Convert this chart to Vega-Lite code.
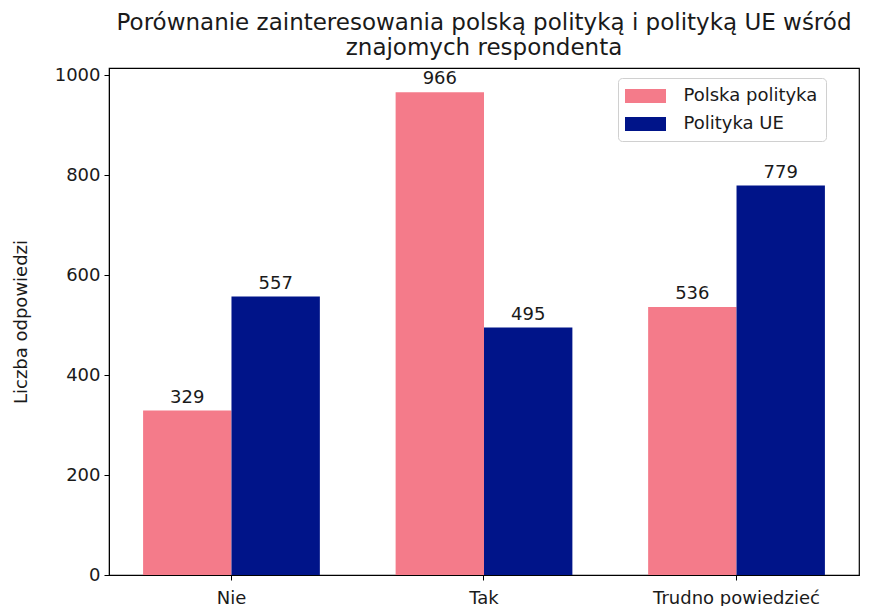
{
  "$schema": "https://vega.github.io/schema/vega-lite/v6.json",
  "width": 750,
  "height": 507,
  "autosize": {"type": "none"},
  "padding": {"left": 109, "top": 68, "right": 28, "bottom": 31},
  "background": "white",
  "title": {
    "text": ["Porównanie zainteresowania polską polityką i polityką UE wśród", "znajomych respondenta"],
    "font": "DejaVu Sans",
    "fontSize": 23,
    "fontWeight": "normal",
    "color": "#1a1a1a",
    "anchor": "middle",
    "offset": 6,
    "lineHeight": 25
  },
  "config": {
    "view": {"stroke": "black", "strokeWidth": 1.2},
    "axis": {
      "labelFont": "DejaVu Sans",
      "labelFontSize": 18,
      "labelColor": "#1a1a1a",
      "titleFont": "DejaVu Sans",
      "titleFontSize": 18,
      "titleFontWeight": "normal",
      "titleColor": "#1a1a1a",
      "domainColor": "black",
      "tickColor": "black",
      "tickSize": 5,
      "grid": false
    }
  },
  "data": {
    "values": [
      {"kategoria": "Nie", "seria": "Polska polityka", "liczba": 329},
      {"kategoria": "Nie", "seria": "Polityka UE", "liczba": 557},
      {"kategoria": "Tak", "seria": "Polska polityka", "liczba": 966},
      {"kategoria": "Tak", "seria": "Polityka UE", "liczba": 495},
      {"kategoria": "Trudno powiedzieć", "seria": "Polska polityka", "liczba": 536},
      {"kategoria": "Trudno powiedzieć", "seria": "Polityka UE", "liczba": 779}
    ]
  },
  "encoding": {
    "x": {
      "field": "kategoria",
      "type": "nominal",
      "sort": ["Nie", "Tak", "Trudno powiedzieć"],
      "scale": {"paddingInner": 0.3, "paddingOuter": 0.135},
      "axis": {"title": null, "labelAngle": 0, "labelPadding": 9}
    },
    "xOffset": {
      "field": "seria",
      "type": "nominal",
      "sort": ["Polska polityka", "Polityka UE"],
      "scale": {"paddingInner": 0, "paddingOuter": 0}
    },
    "y": {
      "field": "liczba",
      "type": "quantitative",
      "scale": {"domain": [0, 1014.3], "nice": false},
      "axis": {"title": "Liczba odpowiedzi", "values": [0, 200, 400, 600, 800, 1000], "format": "d", "titlePadding": 24, "labelPadding": 4}
    }
  },
  "layer": [
    {
      "mark": {"type": "bar"},
      "encoding": {
        "color": {
          "field": "seria",
          "type": "nominal",
          "sort": ["Polska polityka", "Polityka UE"],
          "scale": {"domain": ["Polska polityka", "Polityka UE"], "range": ["#f47b8a", "#001489"]},
          "legend": {
            "title": null,
            "orient": "none",
            "legendX": 509,
            "legendY": 10,
            "labelFont": "DejaVu Sans",
            "labelFontSize": 18,
            "labelColor": "#1a1a1a",
            "symbolType": "M-2.05,-0.7H2.05V0.7H-2.05Z",
            "symbolSize": 400,
            "symbolStrokeWidth": 0,
            "symbolOpacity": 1,
            "symbolOffset": 9.5,
            "strokeColor": "#d0d0d0",
            "cornerRadius": 4,
            "padding": 8,
            "rowPadding": 9,
            "labelOffset": 28,
            "fillColor": "white"
          }
        }
      }
    },
    {
      "mark": {"type": "text", "baseline": "bottom", "dy": -4, "font": "DejaVu Sans", "fontSize": 18, "color": "#1a1a1a"},
      "encoding": {
        "text": {"field": "liczba", "type": "quantitative"}
      }
    }
  ]
}
